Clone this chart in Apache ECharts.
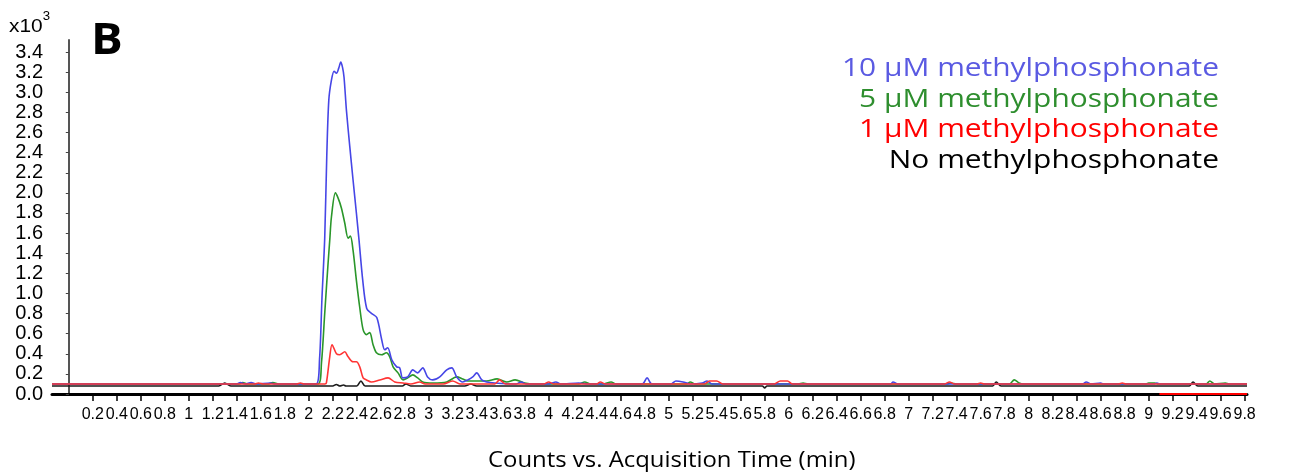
<!DOCTYPE html>
<html>
<head>
<meta charset="utf-8">
<script src="https://cdn.jsdelivr.net/npm/echarts@6/dist/echarts.min.js"></script>
<style>
  html, body { margin: 0; padding: 0; background: #fff; }
  #chart { width: 1293px; height: 474px; }
</style>
</head>
<body>
<div id="chart"></div>
<script>
// Extracted ion chromatograms, counts in units of 10^3, time in minutes.
const seriesNames = [
  '10 µM methylphosphonate',
  '5 µM methylphosphonate',
  '1 µM methylphosphonate',
  'No methylphosphonate'
];
const seriesColors = ['#4646e6', '#2a962a', '#ff3434', '#1a1a1a'];
const legendColors = ['#5a5ae2', '#2e8e2e', '#ff0000', '#000000'];

const yTickLabels = ['0.0','0.2','0.4','0.6','0.8','1.0','1.2','1.4','1.6','1.8','2.0',
  '2.2','2.4','2.6','2.8','3.0','3.2','3.4'];
const xTickLabels = ['0.2','0.4','0.6','0.8','1','1.2','1.4','1.6','1.8','2','2.2','2.4',
  '2.6','2.8','3','3.2','3.4','3.6','3.8','4','4.2','4.4','4.6','4.8','5','5.2','5.4',
  '5.6','5.8','6','6.2','6.4','6.6','6.8','7','7.2','7.4','7.6','7.8','8','8.2','8.4',
  '8.6','8.8','9','9.2','9.4','9.6','9.8'];

const timeRange = [-0.14, 9.82];
const countRange = [0, 3.52];

const blue10uM = [
  [-0.14,0.10],[1.30,0.10],[1.40,0.10],[1.43,0.115],[1.47,0.10],[1.52,0.115],[1.56,0.10],
  [1.68,0.11],[1.72,0.10],[2.06,0.10],[2.09,0.35],[2.11,0.95],[2.133,1.55],[2.15,2.36],
  [2.167,2.92],[2.189,3.12],[2.211,3.21],[2.231,3.19],[2.25,3.24],[2.267,3.30],[2.281,3.25],
  [2.294,3.15],[2.314,2.82],[2.342,2.46],[2.369,2.13],[2.397,1.80],[2.419,1.53],[2.45,1.13],
  [2.483,0.85],[2.525,0.80],[2.567,0.76],[2.608,0.54],[2.633,0.44],[2.658,0.46],[2.692,0.34],
  [2.733,0.27],[2.758,0.26],[2.783,0.16],[2.825,0.17],[2.867,0.24],[2.908,0.21],[2.95,0.26],
  [2.99,0.17],[3.033,0.14],[3.092,0.17],[3.15,0.24],[3.192,0.26],[3.233,0.17],[3.283,0.12],
  [3.325,0.14],[3.367,0.17],[3.40,0.21],[3.442,0.14],[3.483,0.12],[3.55,0.11],[3.73,0.10],
  [3.77,0.12],[3.81,0.10],[4.00,0.10],[4.06,0.12],[4.10,0.10],[4.25,0.11],[4.33,0.10],
  [4.78,0.10],[4.82,0.16],[4.86,0.10],[5.02,0.10],[5.06,0.13],[5.12,0.12],[5.18,0.10],
  [5.28,0.11],[5.32,0.13],[5.36,0.10],[6.85,0.10],[6.87,0.12],[6.91,0.10],[8.45,0.10],
  [8.48,0.12],[8.52,0.10],[8.60,0.11],[8.62,0.10],[9.05,0.10],[9.07,0.11],[9.09,0.10],
  [9.82,0.10]
];
const green5uM = [
  [-0.14,0.10],[1.42,0.10],[1.45,0.115],[1.49,0.10],[1.66,0.10],[1.70,0.115],[1.75,0.10],
  [2.078,0.10],[2.106,0.31],[2.133,0.80],[2.161,1.30],[2.175,1.53],[2.189,1.76],[2.222,2.00],
  [2.244,1.95],[2.272,1.85],[2.30,1.70],[2.328,1.55],[2.347,1.57],[2.369,1.43],[2.397,1.13],
  [2.425,0.86],[2.453,0.64],[2.481,0.59],[2.508,0.61],[2.536,0.49],[2.564,0.41],[2.606,0.39],
  [2.647,0.41],[2.675,0.37],[2.703,0.27],[2.744,0.21],[2.786,0.14],[2.825,0.16],[2.867,0.19],
  [2.908,0.16],[2.95,0.12],[3.033,0.11],[3.15,0.12],[3.233,0.17],[3.283,0.15],[3.325,0.13],
  [3.48,0.13],[3.57,0.15],[3.65,0.12],[3.72,0.14],[3.80,0.11],[3.88,0.10],[4.25,0.10],
  [4.30,0.12],[4.35,0.10],[4.45,0.10],[4.52,0.12],[4.56,0.10],[5.15,0.10],[5.18,0.12],
  [5.22,0.10],[6.08,0.10],[6.12,0.11],[6.16,0.10],[7.32,0.10],[7.35,0.11],[7.40,0.10],
  [7.84,0.10],[7.88,0.14],[7.92,0.11],[7.96,0.10],[8.98,0.10],[9.00,0.11],[9.05,0.11],
  [9.08,0.10],[9.48,0.10],[9.51,0.13],[9.55,0.10],[9.64,0.11],[9.67,0.10],[9.82,0.10]
];
const red1uM = [
  [-0.14,0.10],[1.55,0.10],[1.58,0.11],[1.62,0.10],[1.90,0.10],[1.93,0.11],[1.96,0.10],
  [2.135,0.10],[2.147,0.11],[2.175,0.37],[2.194,0.49],[2.231,0.40],[2.258,0.39],[2.30,0.42],
  [2.328,0.37],[2.369,0.32],[2.397,0.32],[2.425,0.27],[2.453,0.16],[2.481,0.14],[2.522,0.12],
  [2.592,0.14],[2.661,0.16],[2.717,0.12],[2.786,0.11],[2.85,0.10],[2.925,0.12],[2.97,0.10],
  [3.12,0.10],[3.20,0.13],[3.26,0.10],[3.55,0.10],[3.59,0.14],[3.64,0.10],[3.96,0.10],
  [4.00,0.12],[4.04,0.10],[4.40,0.10],[4.43,0.12],[4.47,0.10],[5.30,0.10],[5.34,0.13],
  [5.40,0.13],[5.45,0.10],[5.88,0.10],[5.93,0.13],[5.99,0.13],[6.03,0.10],[7.30,0.10],
  [7.34,0.12],[7.38,0.10],[7.57,0.10],[7.60,0.11],[7.63,0.10],[8.75,0.10],[8.78,0.11],
  [8.81,0.10],[9.82,0.10]
];
// zero-count stretch of the 1 µM trace lying on the time axis
const red1uMZeroSpan = [9.09, 9.82];
const blackNone = [
  [-0.14,0.08],[1.25,0.08],[1.30,0.11],[1.35,0.08],[2.20,0.08],[2.23,0.095],[2.26,0.08],
  [2.29,0.09],[2.31,0.08],[2.40,0.08],[2.435,0.13],[2.47,0.08],[2.78,0.08],[2.81,0.10],
  [2.85,0.08],[3.30,0.08],[3.35,0.10],[3.40,0.08],[5.78,0.08],[5.80,0.06],[5.82,0.08],
  [7.70,0.08],[7.73,0.12],[7.77,0.08],[9.34,0.08],[9.37,0.12],[9.41,0.08],[9.82,0.08]
];

const traces = [blue10uM, green5uM, red1uM, blackNone];
// drawing order: black underneath, red on top
const drawOrder = [3, 1, 0, 2];

const chart = echarts.init(document.getElementById('chart'), null, { renderer: 'canvas' });

const series = drawOrder.map(i => {
  const s = {
    name: seriesNames[i],
    type: 'line',
    data: traces[i],
    showSymbol: false,
    smooth: 0.3,
    lineStyle: { color: seriesColors[i], width: 1.6 },
    itemStyle: { color: seriesColors[i] },
    animation: false
  };
  if (i === 2) {
    s.markLine = {
      silent: true,
      symbol: 'none',
      label: { show: false },
      lineStyle: { color: '#ff0000', width: 2, type: 'solid' },
      data: [[{ coord: [red1uMZeroSpan[0], 0] }, { coord: [red1uMZeroSpan[1], 0] }]]
    };
  }
  return s;
});

// right-aligned coloured names, stretched slightly wider than the font's natural width
const legendTexts = seriesNames.map((name, i) => ({
  type: 'text',
  x: 1219,
  y: 56 + i * 30.5,
  scaleX: 1.15,
  style: {
    text: name,
    fill: legendColors[i],
    font: '26px "Open Sans"',
    align: 'right',
    verticalAlign: 'top'
  }
}));

chart.setOption({
  animation: false,
  backgroundColor: '#ffffff',
  grid: { left: 52, right: 46, top: 40, bottom: 80 },
  xAxis: {
    type: 'value',
    min: timeRange[0],
    max: timeRange[1],
    splitLine: { show: false },
    axisLine: { show: true, onZero: false, lineStyle: { color: '#000', width: 3 } },
    axisTick: {
      show: true, length: 7, customValues: xTickLabels.map(Number),
      lineStyle: { color: '#000', width: 1.5 }
    },
    axisLabel: {
      customValues: xTickLabels.map(Number),
      margin: 13,
      color: '#000',
      fontFamily: 'Liberation Sans',
      fontSize: 16,
      formatter: v => String(Number(v.toFixed(1)))
    }
  },
  yAxis: {
    type: 'value',
    min: countRange[0],
    max: countRange[1],
    splitLine: { show: false },
    axisLine: { show: true, lineStyle: { color: '#555', width: 2 } },
    axisTick: {
      show: true, length: 3, customValues: yTickLabels.map(Number),
      lineStyle: { color: '#444', width: 1 }
    },
    axisLabel: {
      customValues: yTickLabels.map(Number),
      margin: 9,
      color: '#000',
      fontFamily: 'Liberation Sans',
      fontSize: 20,
      formatter: v => v.toFixed(1)
    }
  },
  graphic: [
    {
      type: 'text', x: 9, y: 5, scaleX: 1.1,
      style: {
        text: '{b|x10}{s|3}',
        rich: {
          b: { fontFamily: 'Liberation Sans', fontSize: 19, fill: '#000', verticalAlign: 'bottom', height: 24 },
          s: { fontFamily: 'Liberation Sans', fontSize: 12, fill: '#000', verticalAlign: 'top', height: 24, padding: [0, 0, 10, 0] }
        }
      }
    },
    {
      type: 'text', x: 91, y: 20, scaleX: 1.1,
      style: { text: 'B', fill: '#000', font: 'bold 43px "Open Sans"' }
    },
    {
      type: 'text', x: 488, y: 450, scaleX: 1.086,
      style: { text: 'Counts vs. Acquisition Time (min)', fill: '#000', font: '22px "Open Sans"' }
    }
  ].concat(legendTexts),
  series: series
});
</script>
</body>
</html>
